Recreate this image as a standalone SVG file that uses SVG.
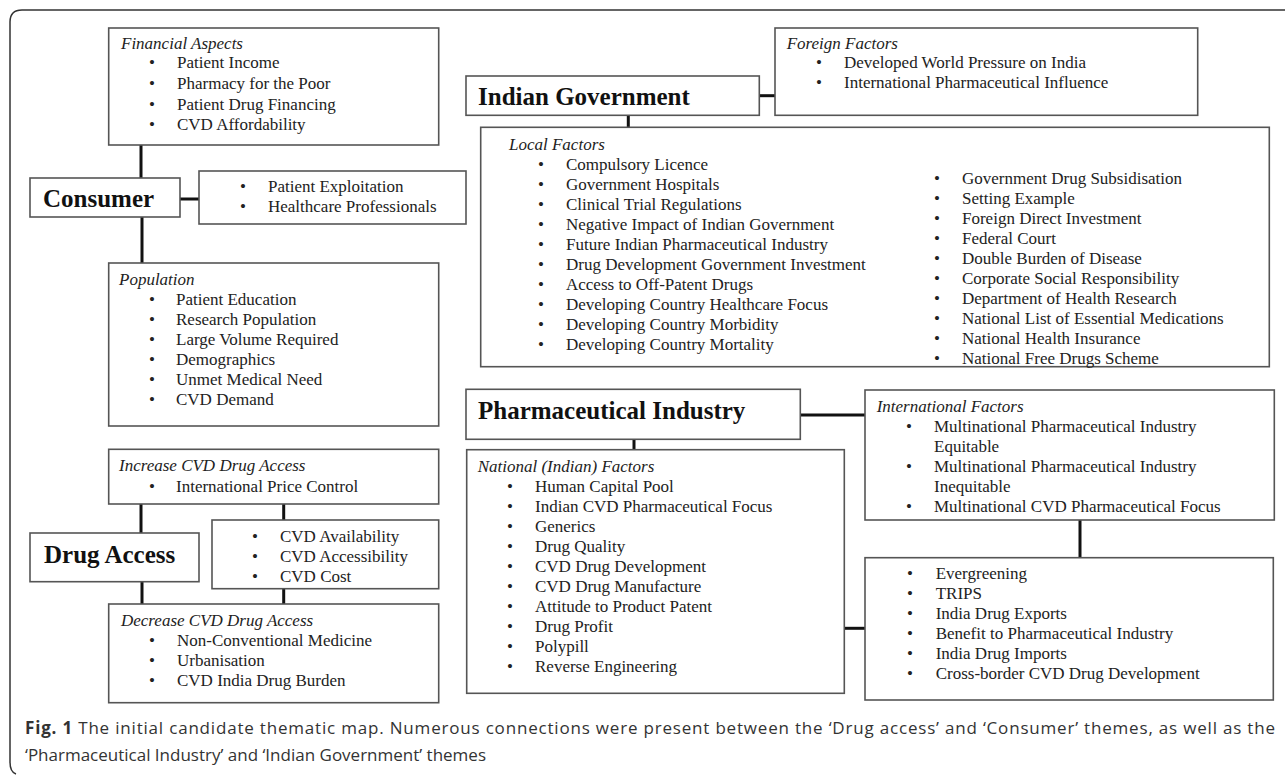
<svg xmlns="http://www.w3.org/2000/svg" width="1285" height="776" viewBox="0 0 1285 776">
<style>
.box{fill:#fff;stroke:#555;stroke-width:1.6}
.con{stroke:#111;stroke-width:3;fill:none}
.t{font-family:"Liberation Serif","Times New Roman",serif;font-size:17px;fill:#222}
.i{font-style:italic}
.h{font-family:"Liberation Serif","Times New Roman",serif;font-weight:bold;font-size:25px;fill:#111}
.cap{font-family:"Open Sans","Noto Sans",sans-serif;font-size:17px;fill:#333}
.frame{fill:none;stroke:#333;stroke-width:1.5}
</style>
<rect width="1285" height="776" fill="#fff"/>
<path class="frame" d="M1285,10 H22 Q10,10 10,22 V762 Q10,772 16,774"/>

<g id="connectors">
<line class="con" x1="141" y1="145" x2="141" y2="178"/>
<line class="con" x1="142" y1="217" x2="142" y2="263"/>
<line class="con" x1="180" y1="199" x2="199" y2="199"/>
<line class="con" x1="141" y1="504" x2="141" y2="533"/>
<line class="con" x1="142" y1="582" x2="142" y2="604"/>
<line class="con" x1="283.7" y1="504" x2="283.7" y2="520"/>
<line class="con" x1="283.7" y1="589" x2="283.7" y2="604"/>
<line class="con" x1="759.3" y1="95.7" x2="775" y2="95.7"/>
<line class="con" x1="628.3" y1="115.3" x2="628.3" y2="127.3"/>
<line class="con" x1="634" y1="439.3" x2="634" y2="449.7"/>
<line class="con" x1="800.3" y1="415" x2="865" y2="415"/>
<line class="con" x1="844.3" y1="628.3" x2="865" y2="628.3"/>
<line class="con" x1="1080" y1="520" x2="1080" y2="557.7"/>
</g>

<g id="financial-aspects">
<rect class="box" x="108.7" y="28" width="330" height="117"/>
<text class="t i" x="121" y="49">Financial Aspects</text>
<g class="t"><text x="149" y="68">•</text><text x="177" y="68">Patient Income</text>
<text x="149" y="89">•</text><text x="177" y="89">Pharmacy for the Poor</text>
<text x="149" y="109.5">•</text><text x="177" y="109.5">Patient Drug Financing</text>
<text x="149" y="130">•</text><text x="177" y="130">CVD Affordability</text></g>
</g>

<g id="consumer">
<rect class="box" x="30" y="178" width="150" height="39"/>
<text class="h" x="43" y="207">Consumer</text>
</g>

<g id="consumer-other">
<rect class="box" x="199" y="171" width="267" height="53"/>
<g class="t"><text x="240" y="192">•</text><text x="268" y="192">Patient Exploitation</text>
<text x="240" y="212">•</text><text x="268" y="212">Healthcare Professionals</text></g>
</g>

<g id="population">
<rect class="box" x="108.7" y="263" width="330" height="163"/>
<text class="t i" x="119" y="285">Population</text>
<g class="t"><text x="149" y="305">•</text><text x="176" y="305">Patient Education</text>
<text x="149" y="325">•</text><text x="176" y="325">Research Population</text>
<text x="149" y="345">•</text><text x="176" y="345">Large Volume Required</text>
<text x="149" y="365">•</text><text x="176" y="365">Demographics</text>
<text x="149" y="385">•</text><text x="176" y="385">Unmet Medical Need</text>
<text x="149" y="405">•</text><text x="176" y="405">CVD Demand</text></g>
</g>

<g id="increase-access">
<rect class="box" x="108.7" y="449.3" width="330" height="54.7"/>
<text class="t i" x="119" y="471">Increase CVD Drug Access</text>
<g class="t"><text x="149" y="491.7">•</text><text x="176" y="491.7">International Price Control</text></g>
</g>

<g id="drug-access">
<rect class="box" x="30" y="533" width="169" height="48.7"/>
<text class="h" x="44" y="563">Drug Access</text>
</g>

<g id="cvd-access">
<rect class="box" x="212" y="520" width="226.7" height="68.7"/>
<g class="t"><text x="252" y="541.7">•</text><text x="280" y="541.7">CVD Availability</text>
<text x="252" y="561.7">•</text><text x="280" y="561.7">CVD Accessibility</text>
<text x="252" y="581.7">•</text><text x="280" y="581.7">CVD Cost</text></g>
</g>

<g id="decrease-access">
<rect class="box" x="108.7" y="604" width="330" height="98.7"/>
<text class="t i" x="121" y="625.7">Decrease CVD Drug Access</text>
<g class="t"><text x="149" y="645.7">•</text><text x="177" y="645.7">Non-Conventional Medicine</text>
<text x="149" y="665.7">•</text><text x="177" y="665.7">Urbanisation</text>
<text x="149" y="686">•</text><text x="177" y="686">CVD India Drug Burden</text></g>
</g>

<g id="indian-government">
<rect class="box" x="466" y="76" width="293.3" height="39.3"/>
<text class="h" x="478" y="105">Indian Government</text>
</g>

<g id="foreign-factors">
<rect class="box" x="775" y="28" width="422.7" height="87.3"/>
<text class="t i" x="786.7" y="49">Foreign Factors</text>
<g class="t"><text x="816" y="68">•</text><text x="844" y="68">Developed World Pressure on India</text>
<text x="816" y="88">•</text><text x="844" y="88">International Pharmaceutical Influence</text></g>
</g>

<g id="local-factors">
<rect class="box" x="480.7" y="127.3" width="788.6" height="239.4"/>
<text class="t i" x="509" y="150">Local Factors</text>
<g class="t">
<text x="538" y="170">•</text><text x="566" y="170">Compulsory Licence</text>
<text x="538" y="190">•</text><text x="566" y="190">Government Hospitals</text>
<text x="538" y="210">•</text><text x="566" y="210">Clinical Trial Regulations</text>
<text x="538" y="230">•</text><text x="566" y="230">Negative Impact of Indian Government</text>
<text x="538" y="250">•</text><text x="566" y="250">Future Indian Pharmaceutical Industry</text>
<text x="538" y="270">•</text><text x="566" y="270">Drug Development Government Investment</text>
<text x="538" y="290">•</text><text x="566" y="290">Access to Off-Patent Drugs</text>
<text x="538" y="310">•</text><text x="566" y="310">Developing Country Healthcare Focus</text>
<text x="538" y="330">•</text><text x="566" y="330">Developing Country Morbidity</text>
<text x="538" y="350">•</text><text x="566" y="350">Developing Country Mortality</text>
<text x="934" y="184.3">•</text><text x="962" y="184.3">Government Drug Subsidisation</text>
<text x="934" y="204.3">•</text><text x="962" y="204.3">Setting Example</text>
<text x="934" y="224.3">•</text><text x="962" y="224.3">Foreign Direct Investment</text>
<text x="934" y="244.3">•</text><text x="962" y="244.3">Federal Court</text>
<text x="934" y="264.3">•</text><text x="962" y="264.3">Double Burden of Disease</text>
<text x="934" y="284.3">•</text><text x="962" y="284.3">Corporate Social Responsibility</text>
<text x="934" y="304.3">•</text><text x="962" y="304.3">Department of Health Research</text>
<text x="934" y="324.3">•</text><text x="962" y="324.3">National List of Essential Medications</text>
<text x="934" y="344.3">•</text><text x="962" y="344.3">National Health Insurance</text>
<text x="934" y="364.3">•</text><text x="962" y="364.3">National Free Drugs Scheme</text>
</g>
</g>

<g id="pharmaceutical-industry">
<rect class="box" x="466" y="389.3" width="334.3" height="50"/>
<text class="h" x="478" y="419.3">Pharmaceutical Industry</text>
</g>

<g id="national-factors">
<rect class="box" x="466.7" y="449.7" width="377.6" height="243.6"/>
<text class="t i" x="477.7" y="472.3">National (Indian) Factors</text>
<g class="t">
<text x="507" y="492.3">•</text><text x="535" y="492.3">Human Capital Pool</text>
<text x="507" y="512.3">•</text><text x="535" y="512.3">Indian CVD Pharmaceutical Focus</text>
<text x="507" y="532.3">•</text><text x="535" y="532.3">Generics</text>
<text x="507" y="552.3">•</text><text x="535" y="552.3">Drug Quality</text>
<text x="507" y="572.3">•</text><text x="535" y="572.3">CVD Drug Development</text>
<text x="507" y="592.3">•</text><text x="535" y="592.3">CVD Drug Manufacture</text>
<text x="507" y="612.3">•</text><text x="535" y="612.3">Attitude to Product Patent</text>
<text x="507" y="632.3">•</text><text x="535" y="632.3">Drug Profit</text>
<text x="507" y="652.3">•</text><text x="535" y="652.3">Polypill</text>
<text x="507" y="672.3">•</text><text x="535" y="672.3">Reverse Engineering</text>
</g>
</g>

<g id="international-factors">
<rect class="box" x="865" y="390" width="409.3" height="130"/>
<text class="t i" x="876.7" y="411.7">International Factors</text>
<g class="t">
<text x="906" y="431.7">•</text><text x="934" y="431.7">Multinational Pharmaceutical Industry</text>
<text x="934" y="451.7">Equitable</text>
<text x="906" y="471.7">•</text><text x="934" y="471.7">Multinational Pharmaceutical Industry</text>
<text x="934" y="491.7">Inequitable</text>
<text x="906" y="511.7">•</text><text x="934" y="511.7">Multinational CVD Pharmaceutical Focus</text>
</g>
</g>

<g id="cross-border-factors">
<rect class="box" x="865" y="557.7" width="408.3" height="142.3"/>
<g class="t">
<text x="907" y="579">•</text><text x="935.7" y="579">Evergreening</text>
<text x="907" y="599">•</text><text x="935.7" y="599">TRIPS</text>
<text x="907" y="619">•</text><text x="935.7" y="619">India Drug Exports</text>
<text x="907" y="639">•</text><text x="935.7" y="639">Benefit to Pharmaceutical Industry</text>
<text x="907" y="659">•</text><text x="935.7" y="659">India Drug Imports</text>
<text x="907" y="679">•</text><text x="935.7" y="679">Cross-border CVD Drug Development</text>
</g>
</g>

<g id="caption">
<text class="cap" x="25" y="734" textLength="1250" lengthAdjust="spacing"><tspan font-weight="bold">Fig. 1</tspan> The initial candidate thematic map. Numerous connections were present between the ‘Drug access’ and ‘Consumer’ themes, as well as the</text>
<text class="cap" x="25" y="761">‘Pharmaceutical Industry’ and ‘Indian Government’ themes</text>
</g>
</svg>
